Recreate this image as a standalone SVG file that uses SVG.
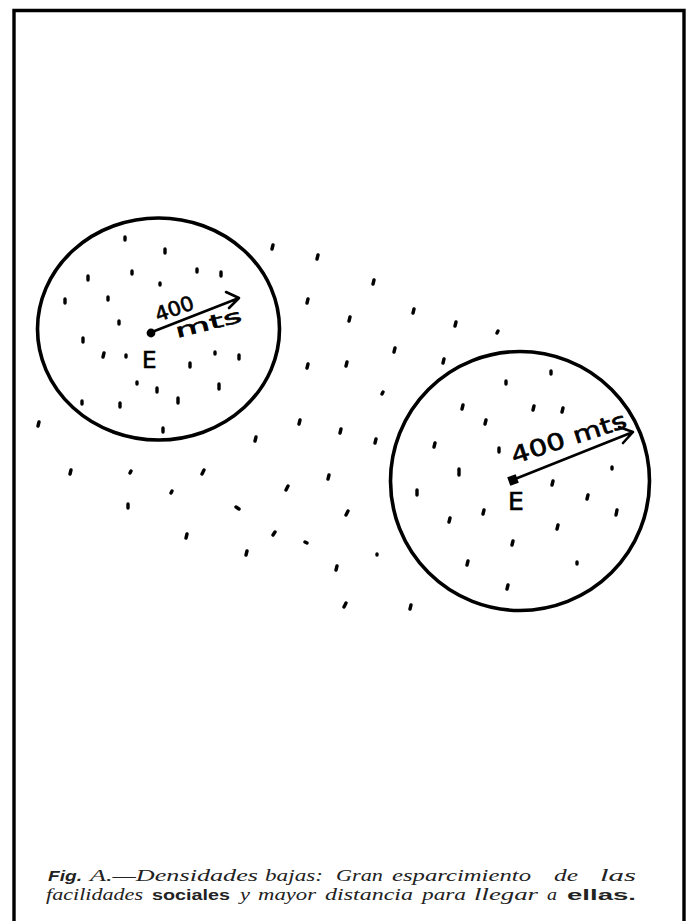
<svg xmlns="http://www.w3.org/2000/svg" width="695" height="921" viewBox="0 0 695 921">
<style>
.frame{fill:none;stroke:#000;stroke-width:3.4;stroke-linecap:square}
.zone{fill:none;stroke:#000;stroke-width:3.6}
.dots{fill:none;stroke:#000;stroke-width:3.4;stroke-linecap:round}
.arrow{fill:none;stroke:#000;stroke-width:2.6;stroke-linecap:round;stroke-linejoin:round}
.hand{font-family:"DejaVu Sans","Liberation Sans",sans-serif;fill:#000;stroke:#000;stroke-width:0.6}
.cap{font-family:"Liberation Serif",serif;font-style:italic;font-size:17px;fill:#222}
.capb{font-family:"Liberation Sans",sans-serif;font-weight:bold;font-size:15.5px;fill:#222}
</style>
<rect width="695" height="921" fill="#fff"/>
<g id="frame">
<path class="frame" d="M14,921 L14,10.5 L684,10.5 L684,921"/>
</g>
<g id="zone-left">
<ellipse class="zone" cx="158.5" cy="329" rx="121" ry="111"/>
<circle cx="151" cy="333" r="4.4" fill="#000"/>
<text class="hand" x="142" y="368" font-size="23">E</text>
<text class="hand" x="158" y="322" font-size="20" textLength="40" lengthAdjust="spacingAndGlyphs" transform="rotate(-20 158 322)">400</text>
<text class="hand" x="177" y="338" font-size="19" textLength="68" lengthAdjust="spacingAndGlyphs" transform="rotate(-14 177 338)">mts</text>
</g>
<g id="zone-right">
<circle class="zone" cx="520" cy="481" r="129.5"/>
<rect x="508.5" y="475.5" width="9" height="9" fill="#000" transform="rotate(-20 513 480)"/>
<text class="hand" x="508" y="510" font-size="25">E</text>
<text class="hand" x="514" y="464" font-size="23" textLength="120" lengthAdjust="spacingAndGlyphs" transform="rotate(-18 514 464)">400 mts</text>
</g>
<g id="connectors">
<path class="arrow" d="M152,332 L239,298 M226,292 L239,298 L229,308"/>
<path class="arrow" d="M515,479 L633,432 M619,427 L633,432 L623,443"/>
</g>
<g id="dots">
<path class="dots" d="
M273,245 l-1,4 M318,255 l-1,4 M374,280 l-1,4 M308,299 l-1,4 M414,309 l-1,4 M350,317 l-1,4 M456,322 l-1,4 M498,331 l-1,2
M395,348 l-1,4 M308,364 l-1,4 M347,362 l-1,4 M444,359 l-1,4 M383,392 l-1,2 M300,420 l-1,4 M341,429 l-1,4 M256,437 l-1,4
M376,439 l-1,4 M39,422 l-1,4 M71,470 l-1,4 M131,471 l-1,2 M204,470 l-2,4 M329,475 l-1,4 M172,491 l-1,2 M288,486 l-2,4
M128,504 l0,4 M236,507 l3,2 M348,511 l-2,4 M187,534 l-1,4 M275,532 l-2,3 M305,542 l2,1 M247,551 l-1,4 M377,554 l0,1
M337,566 l-1,4 M346,603 l-2,4 M411,605 l-1,4
M125,237 l0,3 M165,249 l0,4 M88,276 l0,4 M132,271 l0,3 M197,269 l0,3 M221,272 l0,4 M160,283 l0,2 M108,297 l0,3
M65,299 l0,4 M119,321 l0,3 M83,338 l0,4 M104,353 l-1,4 M126,355 l0,2 M190,363 l0,4 M215,352 l0,2 M239,355 l0,4
M137,382 l0,2 M157,388 l0,4 M219,384 l0,5 M178,398 l0,5 M82,401 l0,3 M120,403 l0,4 M163,428 l0,4
M463,405 l-1,4 M486,420 l-1,4 M417,490 l0,5 M506,381 l0,3 M551,371 l0,3 M534,406 l-1,4 M563,408 l-1,4 M435,443 l-1,4
M499,448 l0,4 M459,469 l0,6 M612,467 l0,2 M553,481 l-1,4 M588,495 l-1,4 M617,510 l-1,5 M484,510 l-1,4 M450,518 l-1,4
M558,525 l-1,4 M513,541 l-1,4 M468,561 l-1,4 M577,562 l0,2 M508,585 l-1,4"/>
</g>
<g id="caption">
<text class="capb" x="48" y="881" font-style="italic" textLength="34" lengthAdjust="spacingAndGlyphs">Fig.</text>
<text class="cap" x="90" y="881" textLength="168" lengthAdjust="spacingAndGlyphs">A.—Densidades</text>
<text class="cap" x="265" y="881" textLength="58" lengthAdjust="spacingAndGlyphs">bajas:</text>
<text class="cap" x="336" y="881" textLength="47" lengthAdjust="spacingAndGlyphs">Gran</text>
<text class="cap" x="392" y="881" textLength="139" lengthAdjust="spacingAndGlyphs">esparcimiento</text>
<text class="cap" x="554" y="881" textLength="24" lengthAdjust="spacingAndGlyphs">de</text>
<text class="cap" x="600" y="881" textLength="36" lengthAdjust="spacingAndGlyphs">las</text>
<text class="cap" x="46" y="900" textLength="97" lengthAdjust="spacingAndGlyphs">facilidades</text>
<text class="capb" x="152" y="900" textLength="78" lengthAdjust="spacingAndGlyphs">sociales</text>
<text class="cap" x="240" y="900" textLength="10" lengthAdjust="spacingAndGlyphs">y</text>
<text class="cap" x="258" y="900" textLength="58" lengthAdjust="spacingAndGlyphs">mayor</text>
<text class="cap" x="325" y="900" textLength="88" lengthAdjust="spacingAndGlyphs">distancia</text>
<text class="cap" x="422" y="900" textLength="44" lengthAdjust="spacingAndGlyphs">para</text>
<text class="cap" x="474" y="900" textLength="64" lengthAdjust="spacingAndGlyphs">llegar</text>
<text class="cap" x="547" y="900" textLength="10" lengthAdjust="spacingAndGlyphs">a</text>
<text class="capb" x="567" y="900" textLength="69" lengthAdjust="spacingAndGlyphs">ellas.</text>
</g>
</svg>
